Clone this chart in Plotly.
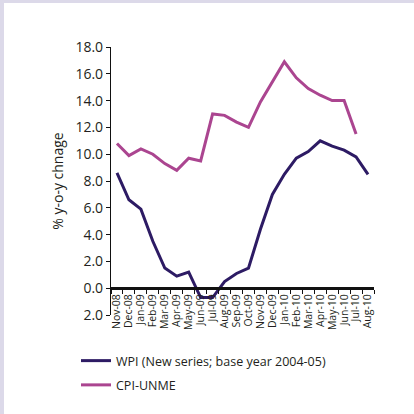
import plotly.graph_objects as go

months = ["Nov-08", "Dec-08", "Jan-09", "Feb-09", "Mar-09", "Apr-09", "May-09",
          "Jun-09", "Jul-09", "Aug-09", "Sep-09", "Oct-09", "Nov-09", "Dec-09",
          "Jan-10", "Feb-10", "Mar-10", "Apr-10", "May-10", "Jun-10", "Jul-10",
          "Aug-10"]

wpi = [8.6, 6.6, 5.9, 3.5, 1.5, 0.9, 1.2, -0.7, -0.7, 0.5, 1.1, 1.5, 4.4, 7.0,
       8.5, 9.7, 10.2, 11.0, 10.6, 10.3, 9.8, 8.5]

cpi_unme = [10.8, 9.9, 10.4, 10.0, 9.3, 8.8, 9.7, 9.5, 13.0, 12.9, 12.4, 12.0,
            13.9, 15.4, 16.9, 15.7, 14.9, 14.4, 14.0, 14.0, 11.5, None]

y_ticks = [-2, 0, 2, 4, 6, 8, 10, 12, 14, 16, 18]
y_tick_text = ["2.0", "0.0", "2.0", "4.0", "6.0", "8.0", "10.0", "12.0",
               "14.0", "16.0", "18.0"]

W, H = 414, 414
ML, MR, MT, MB = 111, 40, 47, 99
PW, PH = W - ML - MR, H - MT - MB
Y_MIN, Y_MAX = -2, 18

WPI_COLOR = "#2d1b64"
CPI_COLOR = "#ab4590"
TEXT = "#231f20"
FONT = "Open Sans"

fig = go.Figure()
fig.add_trace(go.Scatter(
    x=months, y=wpi, mode="lines", name="WPI (New series; base year 2004-05)",
    line=dict(color=WPI_COLOR, width=3), legendgroup="wpi"))
fig.add_trace(go.Scatter(
    x=months, y=cpi_unme, mode="lines", name="CPI-UNME",
    line=dict(color=CPI_COLOR, width=3), legendgroup="cpi"))


def px_x(p):
    return (p - ML) / PW


def px_y(p):
    return (H - MB - p) / PH


# light frame along the top and left edges of the panel
frame = "#dcd9e9"
fig.add_shape(type="rect", xref="paper", yref="paper",
              x0=px_x(0), x1=px_x(W), y0=px_y(3), y1=px_y(0),
              fillcolor=frame, line_width=0, layer="below")
fig.add_shape(type="rect", xref="paper", yref="paper",
              x0=px_x(0), x1=px_x(4), y0=px_y(H), y1=px_y(0),
              fillcolor=frame, line_width=0, layer="below")

fig.update_layout(
    width=W, height=H,
    margin=dict(l=ML, r=MR, t=MT, b=MB),
    paper_bgcolor="white", plot_bgcolor="white",
    font=dict(family=FONT, color=TEXT),
    showlegend=True,
    legend=dict(x=px_x(76), y=px_y(346), xanchor="left", yanchor="top",
                font=dict(size=12.5, color=TEXT), tracegroupgap=5,
                itemwidth=30, bgcolor="rgba(0,0,0,0)"),
    xaxis=dict(
        type="category", range=[-0.5, len(months) - 0.5],
        tickmode="linear", tick0=0, dtick=1,
        anchor="free", position=(0 - Y_MIN) / (Y_MAX - Y_MIN),
        showline=True, linecolor="#111111", linewidth=2.5,
        ticks="outside", ticklen=4, tickwidth=1, tickcolor="#111111",
        tickson="boundaries", tickangle=-90,
        tickfont=dict(size=10.5, color=TEXT),
        showgrid=False, zeroline=False, fixedrange=True),
    yaxis=dict(
        range=[Y_MIN, Y_MAX], tickvals=y_ticks, ticktext=y_tick_text,
        showline=True, linecolor="#111111", linewidth=1.2,
        ticks="outside", ticklen=4, tickwidth=1, tickcolor="#111111",
        tickfont=dict(size=14, color=TEXT),
        showgrid=False, zeroline=False,
        title=dict(text="% y-o-y chnage", font=dict(size=14, color=TEXT),
                   standoff=8)),
)

fig.write_html("out.html")
